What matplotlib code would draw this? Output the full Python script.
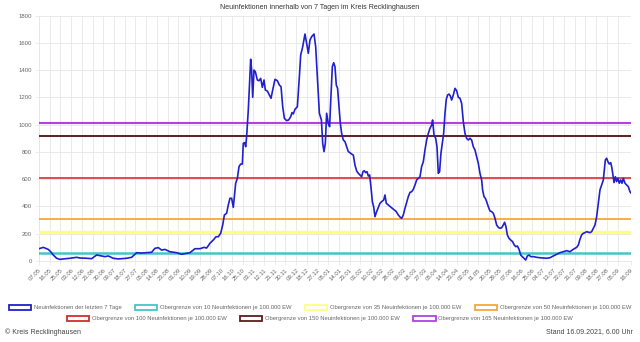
import matplotlib
matplotlib.use("Agg")
import matplotlib.pyplot as plt
from matplotlib.patches import Patch
import datetime as dt

# ---- data -------------------------------------------------------------
start_date = dt.date(2020, 5, 7)
n_days = 497  # last day = 16.09.2021

# day offsets (from 07.05.2020) and 7-day new infections
day_offsets = [0, 3.6, 7.8, 9.8, 12.0, 14.8, 17.6, 20.4, 26.0, 31.6, 34.4, 40.0, 44.2, 48.4, 51.2,
               55.4, 58.2, 62.4, 66.6, 73.6, 77.8, 82.0, 86.0, 90.4, 94.6, 97.4, 100.2, 103.0,
               105.8, 110.0, 115.6, 119.8, 124.0, 126.8, 131.0, 135.2, 138.6, 140.8, 143.6, 146.4,
               148.7, 150.6, 152.6, 154.3, 155.7, 157.6, 159.0, 160.4, 161.8, 163.2, 164.1, 165.2,
               166.6, 168.0, 169.4, 170.8, 171.6, 172.8, 173.6, 174.4, 175.8, 176.7, 177.8, 178.6,
               179.5, 180.6, 181.7, 183.4, 184.8, 186.2, 187.6, 189.0, 190.1, 191.8, 193.5, 194.9,
               196.3, 198.2, 200.2, 201.9, 203.3, 204.7, 206.1, 208.0, 209.7, 211.4, 212.5, 213.6,
               215.0, 217.0, 218.7, 219.8, 221.5, 223.4, 224.8, 226.2, 227.6, 229.0, 231.0, 232.4,
               234.1, 235.5, 237.2, 238.3, 239.4, 240.5, 241.6, 243.0, 244.1, 245.2, 246.4, 247.5,
               248.6, 249.7, 250.8, 252.0, 253.1, 254.2, 255.6, 257.0, 258.4, 259.8, 261.2, 262.6,
               264.0, 265.4, 266.8, 268.2, 269.6, 271.0, 272.1, 273.2, 274.4, 275.5, 276.6, 277.7,
               278.8, 280.0, 281.1, 282.2, 283.6, 285.0, 286.4, 287.8, 289.5, 290.6, 291.7, 293.4,
               295.1, 296.8, 298.4, 300.1, 301.8, 303.5, 304.6, 306.0, 307.4, 308.8, 310.2, 311.6,
               313.0, 314.4, 315.8, 317.2, 318.6, 320.0, 321.4, 322.8, 324.2, 325.6, 327.0, 328.4,
               329.8, 330.6, 331.8, 333.2, 334.3, 335.4, 336.5, 337.6, 338.8, 339.9, 341.0, 342.1,
               343.2, 344.4, 345.5, 346.6, 348.0, 349.4, 350.8, 352.2, 353.6, 355.0, 356.4, 357.8,
               359.2, 360.6, 362.0, 363.4, 364.8, 366.2, 367.6, 369.0, 370.4, 371.8, 372.6, 373.8,
               374.9, 376.0, 377.4, 378.8, 380.2, 381.6, 383.0, 384.4, 385.8, 387.2, 388.6, 390.0,
               391.1, 392.2, 393.4, 394.8, 396.2, 397.8, 399.2, 400.6, 401.8, 403.2, 404.6, 406.0,
               407.4, 408.8, 410.2, 411.6, 413.0, 415.2, 418.0, 420.8, 423.6, 426.4, 429.2, 432.0,
               434.8, 437.6, 440.4, 443.2, 446.0, 448.8, 451.6, 453.0, 454.4, 455.8, 457.2, 458.6,
               460.0, 462.8, 464.2, 465.6, 467.0, 468.4, 469.8, 471.2, 472.6, 474.0, 474.8, 475.7,
               476.8, 477.9, 479.0, 480.2, 481.0, 481.8, 483.0, 484.1, 485.2, 486.3, 487.4, 488.6,
               489.7, 490.8, 492.2, 493.6, 495.0, 496.4, 497.0]
cases_7d = [90, 100, 85, 68, 44, 20, 12, 15, 20, 27, 22, 20, 17, 44, 39,
            32, 37, 20, 15, 20, 27, 61, 58, 61, 64, 93, 98, 80,
            85, 68, 61, 49, 56, 61, 90, 90, 100, 95, 130, 154,
            178, 178, 203, 264, 337, 350, 411, 460, 460, 393, 472, 570,
            606, 692, 711, 711, 863, 868, 838, 912, 1107, 1278, 1479, 1400,
            1200, 1400, 1388, 1327, 1322, 1339, 1273, 1327, 1254, 1246, 1217, 1193,
            1254, 1332, 1322, 1290, 1278, 1131, 1046, 1029, 1034, 1058, 1088, 1078,
            1112, 1131, 1352, 1510, 1571, 1664, 1596, 1523, 1620, 1645, 1664, 1571,
            1303, 1083, 1034, 863, 802, 863, 1083, 1009, 985, 1205, 1425, 1454,
            1425, 1290, 1266, 1132, 1009, 936, 887, 875, 838, 802, 794, 784,
            777, 704, 660, 643, 631, 618, 655, 662, 648, 655, 623, 631,
            545, 435, 398, 325, 362, 393, 423, 435, 447, 484, 423, 411,
            398, 386, 374, 362, 337, 320, 313, 337, 386, 428, 472, 503,
            508, 525, 557, 594, 606, 618, 692, 728, 814, 887, 936, 973,
            997, 1034, 924, 899, 838, 643, 655, 789, 863, 936, 1083, 1185,
            1217, 1224, 1210, 1180, 1217, 1266, 1249, 1200, 1193, 1156, 1022, 936,
            899, 887, 900, 887, 838, 814, 765, 716, 643, 594, 521, 472,
            460, 435, 398, 367, 362, 350, 313, 264, 247, 240, 244, 264,
            284, 252, 191, 166, 154, 142, 117, 105, 110, 86, 44, 32,
            20, 7, 37, 44, 32, 32, 27, 24, 22, 20, 24, 37,
            49, 61, 68, 76, 68, 86, 100, 117, 159, 191, 203, 208,
            215, 208, 215, 240, 264, 325, 423, 521, 557, 594, 667, 741,
            753, 728, 711, 721, 692, 648, 575, 618, 582, 606, 570, 594,
            570, 606, 570, 557, 545, 508, 500]

threshold_values = [61.2, 214.2, 306.0, 612.0, 918.0, 1009.8]
series_labels = ["Neuinfektionen der letzten 7 Tage",
                 "Obergrenze von 10 Neuinfektionen je 100.000 EW",
                 "Obergrenze von 35 Neuinfektionen je 100.000 EW",
                 "Obergrenze von 50 Neuinfektionen je 100.000 EW",
                 "Obergrenze von 100 Neuinfektionen je 100.000 EW",
                 "Obergrenze von 150 Neuinfektionen je 100.000 EW",
                 "Obergrenze von 165 Neuinfektionen je 100.000 EW"]
title_text = "Neuinfektionen innerhalb von 7 Tagen im Kreis Recklinghausen"
footer_left = "\u00a9 Kreis Recklinghausen"
footer_right = "Stand 16.09.2021, 6.00 Uhr"

# ---- style ------------------------------------------------------------
plt.rcParams['font.family'] = ['Liberation Sans', 'DejaVu Sans']
blue = '#2020cf'
thr_colors = ['#45c6c6', '#ffff80', '#f2a838', '#d42d2d', '#5e1e1e', '#b042e0']
thr_widths = [1.8, 2.4, 1.3, 1.2, 1.4, 1.5]
grid_col = '#e6e6e6'
text_col = '#666666'

fig = plt.figure(figsize=(6.4, 3.42), dpi=100)
ax = fig.add_axes([39 / 640, 1 - 261 / 342, (630.7 - 39) / 640, (261 - 15.5) / 342])

ax.plot(day_offsets, cases_7d, color=blue, lw=1.2, zorder=5, solid_joinstyle='round')
for v, c, w in zip(threshold_values, thr_colors, thr_widths):
    ax.axhline(v, color=c, lw=w, zorder=3)

ax.set_xlim(0, n_days)
ax.set_ylim(0, 1800)
ax.set_yticks(range(0, 1801, 200))
ax.tick_params(axis='y', labelsize=4.3, colors=text_col, length=3, width=0.5, color=grid_col, pad=2)

tick_pos = list(range(0, n_days - 5, 9)) + [n_days]
tick_lab = [(start_date + dt.timedelta(days=d)).strftime('%d.%m') for d in tick_pos]
ax.set_xticks(tick_pos)
ax.set_xticklabels(tick_lab, rotation=45, ha='right', rotation_mode='anchor')
ax.tick_params(axis='x', labelsize=4.3, colors=text_col, length=3, width=0.5, color=grid_col, pad=2)

ax.grid(True, color=grid_col, lw=0.6, zorder=0)
for s in ax.spines.values():
    s.set_color(grid_col)
    s.set_linewidth(0.6)
ax.spines['top'].set_visible(False)
ax.spines['right'].set_visible(False)

fig.text(0.5, 1 - 7.5 / 342, title_text, ha='center', va='center', fontsize=5.0, color='#333333')

colors_all = [blue] + thr_colors
handles = [Patch(facecolor='white', edgecolor=c, lw=1.3) for c in colors_all]
legend_kw = dict(frameon=False, fontsize=4.2, handlelength=3.8, handleheight=1.1,
                 handletextpad=0.5, columnspacing=2.3, labelcolor=text_col, borderpad=0,
                 borderaxespad=0)
leg1 = fig.legend(handles[:4], series_labels[:4], ncol=4, loc='center',
                  bbox_to_anchor=(0.5, 1 - 307.5 / 342), **legend_kw)
leg2 = fig.legend(handles[4:], series_labels[4:], ncol=3, loc='center',
                  bbox_to_anchor=(0.5, 1 - 318.5 / 342), **legend_kw)

fig.text(5 / 640, 1 - 332 / 342, footer_left, ha='left', va='center', fontsize=5.0, color='#444444')
fig.text(633 / 640, 1 - 332 / 342, footer_right, ha='right', va='center', fontsize=5.0, color='#444444')

fig.savefig('out.png', dpi=100, facecolor='white')
